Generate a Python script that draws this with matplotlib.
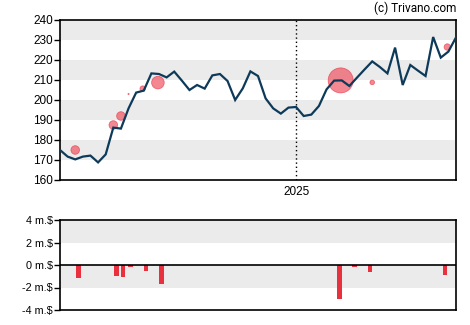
import matplotlib
matplotlib.use("Agg")
import matplotlib.pyplot as plt
import matplotlib.dates as mdates
import numpy as np
import pandas as pd

plt.rcParams['font.family'] = ['Liberation Sans', 'DejaVu Sans']

# Weekly closing prices
start_date = "2024-05-29"
prices = [175.0, 171.7, 170.3, 171.7, 172.2, 168.8, 172.8, 186.2, 185.7, 195.8,
          203.7, 204.7, 213.3, 213.0, 211.3, 214.2, 209.7, 205.0, 207.5, 205.7,
          212.3, 213.0, 209.5, 200.0, 205.8, 214.3, 212.0, 200.8, 195.8, 193.2,
          196.2, 196.5, 192.0, 192.7, 197.0, 205.3, 209.7, 209.8, 207.0, 211.2,
          215.3, 219.3, 216.5, 213.3, 226.2, 207.5, 217.5, 214.7, 212.0, 231.5,
          221.2, 224.2, 231.3]
dates = pd.date_range(start_date, periods=len(prices), freq="7D")

# Insider transactions: date, price, marker radius (px)
trade_dates = ["2024-06-12", "2024-07-17", "2024-07-24", "2024-07-31", "2024-08-13",
               "2024-08-27", "2025-02-11", "2025-03-12", "2025-05-20"]
trade_prices = [175.0, 187.5, 192.0, 203.0, 205.7, 208.7, 209.8, 208.8, 226.5]
trade_radius = [4.3, 4.3, 4.3, 0.6, 2.7, 6.3, 12.5, 2.3, 3.2]

# Net insider volume (million $)
volume_dates = ["2024-06-15", "2024-07-20", "2024-07-26", "2024-08-02", "2024-08-16",
                "2024-08-30", "2025-02-10", "2025-02-24", "2025-03-10", "2025-05-18"]
volume_values = [-1.13, -0.95, -1.04, -0.15, -0.50, -1.66, -3.00, -0.15, -0.60, -0.86]

price_ticks = [160, 170, 180, 190, 200, 210, 220, 230, 240]
volume_ticks = [-4, -2, 0, 2, 4]
volume_labels = ["-4 m.$", "-2 m.$", "0 m.$", "2 m.$", "4 m.$"]

W, H = 470, 325
fig = plt.figure(figsize=(W / 100, H / 100), dpi=100)

def box(l, t, r, b):
    return [l / W, 1 - b / H, (r - l) / W, (b - t) / H]

ax = fig.add_axes(box(60, 20, 456, 180))
ax2 = fig.add_axes(box(60, 220, 456, 310))

xmin, xmax = dates[0], dates[-1]

# Price panel
for lo in (170, 190, 210, 230):
    ax.axhspan(lo, lo + 10, color="#ebebeb", lw=0, zorder=0)
ax.plot(dates, prices, color="#0e3a5a", lw=1.6, zorder=3, solid_joinstyle="miter")
ax.scatter(pd.to_datetime(trade_dates), trade_prices,
           s=(np.array(trade_radius) * 0.72 * 2) ** 2,
           facecolor="#ee3f50", edgecolor="#e83040", linewidths=0.6,
           alpha=0.62, zorder=2)
ax.axvline(pd.Timestamp("2025-01-01"), color="black", lw=1, ls=(0, (1, 2)), zorder=1)
ax.set_xlim(xmin, xmax)
ax.set_ylim(160, 240)
ax.set_yticks(price_ticks)
ax.set_xticks([pd.Timestamp("2025-01-01")])
ax.xaxis.set_major_formatter(mdates.DateFormatter("%Y"))
ax.tick_params(axis="y", length=4, width=1, labelsize=8.5, pad=1)
ax.tick_params(axis="x", length=0, labelsize=8.5, pad=4)
for s in ax.spines.values():
    s.set_linewidth(1.2)

# Volume panel
ax2.axhspan(2, 4, color="#ebebeb", lw=0, zorder=0)
ax2.axhspan(-2, 0, color="#ebebeb", lw=0, zorder=0)
ax2.bar(pd.to_datetime(volume_dates), volume_values, width=4.3,
        color="#e8303f", zorder=2)
ax2.axhline(0, color="black", lw=1.2, zorder=3)
ax2.set_xlim(xmin, xmax)
ax2.set_ylim(-4, 4)
ax2.set_yticks(volume_ticks)
ax2.set_yticklabels(volume_labels)
ax2.set_xticks([])
ax2.tick_params(axis="y", length=4, width=1, labelsize=7.8, pad=1)
for s in ax2.spines.values():
    s.set_linewidth(1.2)

fig.text(456 / W, 1 - 8 / H, "(c) Trivano.com", ha="right", va="center",
         fontsize=8.5, family=["Roboto", "DejaVu Sans"])

fig.savefig("out.png", dpi=100)
